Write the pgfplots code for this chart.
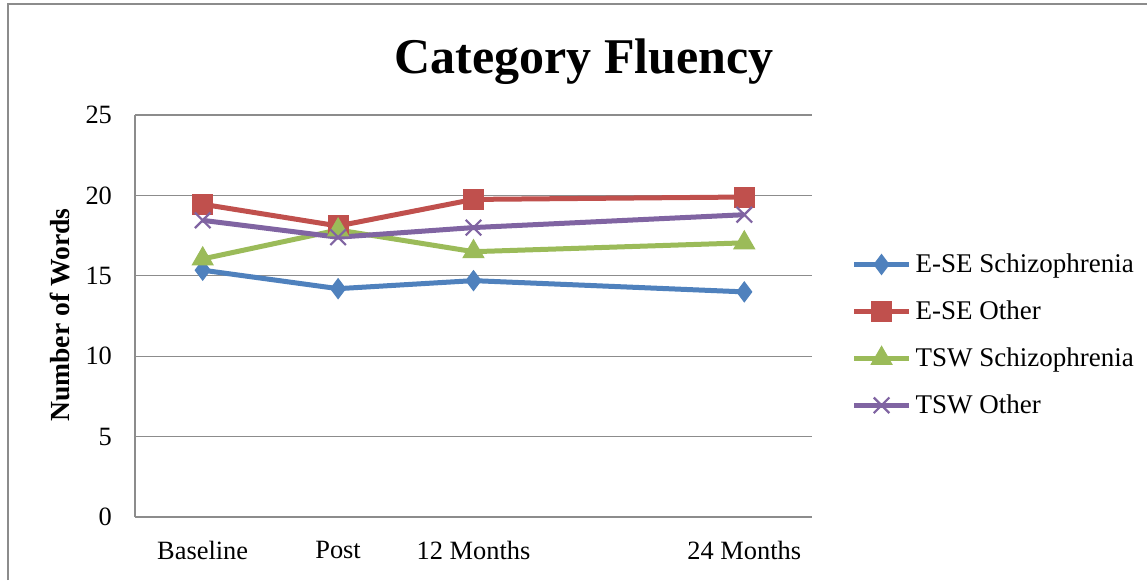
\documentclass[border=0pt]{standalone}
\usepackage{pgfplots}
\pgfplotsset{compat=1.18}
\usepackage{fontspec}
\setmainfont{Liberation Serif}
\definecolor{cblue}{HTML}{4F81BD}
\definecolor{cred}{HTML}{C0504D}
\definecolor{cgreen}{HTML}{9BBB59}
\definecolor{cpurple}{HTML}{8064A2}
\definecolor{cgrid}{HTML}{8C8C8C}
\begin{document}
\begin{tikzpicture}
\useasboundingbox (-67.5pt,-31.5pt) rectangle (506pt,258.5pt);
\fill[white] (-67.5pt,-31.5pt) rectangle (506pt,258.5pt);
\draw[cgrid, line width=1.1pt] (-63.5pt,-31.5pt) -- (-63.5pt,256.5pt) -- (506pt,256.5pt);
\begin{axis}[
  name=ax, at={(0,0)}, anchor=south west,
  scale only axis, width=338.5pt, height=201pt,
  xmin=-0.5, xmax=4.5, ymin=0, ymax=25,
  xtick={0,1,2,4}, xticklabels={Baseline,Post,12 Months,24 Months},
  ytick={0,5,10,15,20,25},
  axis x line=bottom, axis y line=left,
  axis line style={cgrid, line width=0.6pt, -},
  major tick length=0pt,
  ymajorgrids, grid style={cgrid, line width=0.6pt},
  tick label style={font=\fontsize{13.2}{15}\selectfont},
  /pgf/number format/assume math mode=true,
  yticklabel style={xshift=-8pt},
  xticklabel style={yshift=-8.5pt},
  ylabel={\textbf{Number of Words}},
  ylabel style={font=\fontsize{13.8}{15}\selectfont, at={(axis description cs:-0.111,0.502)}, anchor=center},
  legend style={at={(1.049,0.453)}, anchor=west, draw=none, fill=none,
    font=\fontsize{13.5}{15}\selectfont, row sep=8.6pt,
    legend cell align=left},
  legend image code/.code={%
    \draw[mark repeat=2,mark phase=2,#1] plot coordinates {(0pt,0pt)(13.75pt,0pt)(27.5pt,0pt)};},
  every axis plot/.append style={line width=2.5pt},
]
\addplot[cblue, mark=diamond*, mark size=5pt, mark options={solid, line width=0.5pt, fill=cblue}]
  coordinates {(0,15.35) (1,14.2) (2,14.7) (4,14.0)};
\addlegendentry{E-SE Schizophrenia}
\addplot[cred, mark=square*, mark size=5pt, mark options={solid, line width=0.5pt, fill=cred}]
  coordinates {(0,19.45) (1,18.1) (2,19.75) (4,19.9)};
\addlegendentry{E-SE Other}
\addplot[cgreen, mark=triangle*, mark size=6pt, mark options={solid, line width=0.5pt, fill=cgreen}]
  coordinates {(0,16.05) (1,17.85) (2,16.5) (4,17.05)};
\addlegendentry{TSW Schizophrenia}
\addplot[cpurple, mark=x, mark size=5.5pt, mark options={solid, line width=1.1pt}]
  coordinates {(0,18.45) (1,17.4) (2,18.0) (4,18.8)};
\addlegendentry{TSW Other}
\end{axis}
\node[font=\fontsize{25}{28}\selectfont\bfseries] at (224.5pt,227.5pt) {Category Fluency};
\end{tikzpicture}
\end{document}
